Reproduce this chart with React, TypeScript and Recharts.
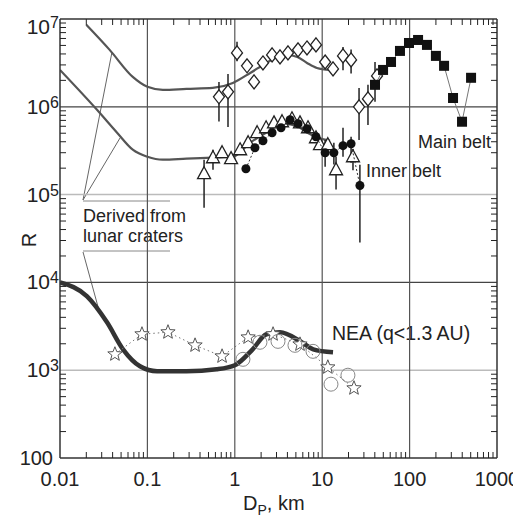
import { ComposedChart, Line, Scatter, XAxis, YAxis, ReferenceLine, ErrorBar } from 'recharts'

const FONT = '"Liberation Sans", Arial, Helvetica, sans-serif'
const INK = '#222'

const CHART_W = 513
const CHART_H = 516
const MARGIN = { top: 11, right: 24, left: 0, bottom: 0 }
const Y_AXIS_W = 52
const X_AXIS_H = 66
const PLOT_W = CHART_W - MARGIN.left - MARGIN.right - Y_AXIS_W
const PLOT_H = CHART_H - MARGIN.top - MARGIN.bottom - X_AXIS_H
const MINOR_LEN = 6

// axes
const xDomain: [number, number] = [0.01, 1000]
const yDomain: [number, number] = [100, 1e7]
const xTicks = [0.01, 0.1, 1, 10, 100, 1000]
const xTickLabels = ['0.01', '0.1', '1', '10', '100', '1000']
const yTicks = [100, 1e3, 1e4, 1e5, 1e6, 1e7]
const yTickBases = ['100', '10', '10', '10', '10', '10']
const yTickExps = ['', '3', '4', '5', '6', '7']
const minorSteps = [2, 3, 4, 5, 6, 7, 8, 9]

const darkGridX = [0.1, 1, 10, 100]
const darkGridY = [1e6, 1e4]
const lightGridY = [1e5, 1e3]

// model curves (D km, R)
const upperLunar: [number, number][] = [
  [0.02, 8.6e6], [0.037, 4.45e6], [0.068, 2.19e6], [0.1, 1.69e6], [0.15, 1.56e6],
  [0.28, 1.6e6], [0.56, 1.64e6], [0.95, 1.87e6], [1.5, 2.43e6], [2.3, 3.16e6],
  [3.6, 3.95e6], [5.2, 3.7e6], [6.7, 3.16e6], [8.7, 2.77e6], [12.3, 2.63e6],
]
const lowerLunar: [number, number][] = [
  [0.01, 2.63e6], [0.0265, 9.25e5], [0.045, 5.07e5], [0.068, 3.25e5], [0.1, 2.7e5],
  [0.15, 2.5e5], [0.28, 2.57e5], [0.56, 2.64e5], [0.95, 2.7e5], [1.5, 3.9e5],
  [2.3, 5.1e5], [3.6, 6.4e5], [5.2, 6.0e5], [6.7, 5.1e5], [8.7, 4.5e5], [12.3, 4.1e5],
]
const neaCurve: [number, number][] = [
  [0.01, 1e4], [0.0204, 6930], [0.0345, 3510], [0.0526, 1730], [0.0823, 1110],
  [0.129, 975], [0.28, 975], [0.62, 1026], [1.0, 1140], [1.6, 1730], [2.3, 2570],
  [3.3, 2700], [5.6, 2135], [7.9, 1730], [13.3, 1600],
]

// observations: [D, R, errLow, errHigh]
type Pt = [number, number, number?, number?]
const neaStars: Pt[] = [
  [0.0425, 1520], [0.0867, 2570], [0.172, 2710], [0.351, 1920], [0.715, 1440],
  [1.42, 2370], [2.74, 2570], [5.57, 1970], [11.6, 1080], [23.1, 624],
]
const neaCircles: Pt[] = [
  [1.24, 1330], [1.94, 2080], [3.12, 2130], [4.88, 1920], [7.85, 1640], [12.6, 693], [19.7, 877],
]
const beltDiamonds: Pt[] = [
  [0.659, 1.3e6, 6.8e5, 1.92e6], [0.836, 1.48e6, 5.9e5, 2.37e6], [1.06, 4.11e6, 3.3e6, 5.5e6],
  [1.38, 2.93e6], [1.66, 1.92e6], [2.1, 3.16e6], [2.67, 3.9e6], [3.29, 3.7e6], [4.06, 4.11e6],
  [5.29, 4.45e6], [6.7, 4.68e6], [8.49, 5.07e6], [10.8, 3.24e6], [13.3, 2.7e6],
  [17.3, 3.8e6, 2.6e6, 4.8e6], [21.4, 3.42e6, 2.4e6, 4.5e6], [26.4, 1.0e6, 4.2e5, 1.64e6],
  [33.4, 1.23e6, 6.2e5, 1.78e6], [42.4, 2.25e6],
]
const mainBelt: Pt[] = [
  [40.2, 1.78e6, 1.14e6, 3.24e6], [49.7, 2.63e6], [61.3, 3.24e6], [77.6, 4.33e6], [98.4, 5.33e6],
  [125, 5.77e6], [158, 5.07e6], [200, 3.8e6], [248, 2.93e6], [314, 1.26e6], [398, 6.76e5], [505, 2.14e6],
]
const innerTriangles: Pt[] = [
  [0.445, 1.73e5, 7.1e4, 2.5e5], [0.563, 2.63e5, 1.92e5, 3.24e5], [0.715, 3.0e5], [0.906, 2.57e5],
  [1.15, 3.24e5], [1.42, 3.9e5], [1.8, 5.07e5], [2.28, 5.77e5], [2.81, 6.57e5], [3.47, 6.76e5],
  [4.51, 7.31e5], [5.57, 6.57e5], [6.88, 5.77e5], [8.49, 4.44e5], [9.44, 3.7e5], [11.6, 3.7e5],
  [14.4, 1.92e5, 1.14e5, 2.7e5], [22.5, 2.7e5, 1.9e5, 3.3e5],
]
const innerDots: Pt[] = [
  [1.34, 1.97e5], [1.7, 3.42e5], [2.1, 4.11e5], [2.67, 5.07e5], [3.38, 5.77e5], [4.29, 7.11e5],
  [5.29, 6.41e5], [6.7, 5.62e5], [8.49, 4.56e5], [10.8, 3.0e5, 2.08e5, 4.2e5],
  [13.6, 3.0e5, 2.2e5, 3.9e5], [17.3, 3.61e5, 2.7e5, 5.77e5], [21.4, 3.8e5, 2.31e5, 4.56e5],
  [27.0, 1.27e5, 2.85e4, 2.19e5],
]

const toRows = (pts: Pt[]) =>
  pts.map(([d, r, lo, hi]) => ({ d, r, err: lo != null && hi != null ? [r - lo, hi - r] : [0, 0] }))
const curveRows = (pts: [number, number][]) => pts.map(([d, r]) => ({ d, r }))

const findMajor = (list: number[], v: number) => list.findIndex((t) => Math.abs(t - v) / t < 1e-6)

// pixels per decade, so each major tick can place the minor ticks of its decade
const X_DECADE = PLOT_W / Math.log10(xDomain[1] / xDomain[0])
const Y_DECADE = PLOT_H / Math.log10(yDomain[1] / yDomain[0])

const StarShape = ({ cx, cy }: any) => {
  const pts: string[] = []
  for (let i = 0; i < 10; i++) {
    const rad = i % 2 === 0 ? 7.5 : 3.2
    const a = -Math.PI / 2 + (i * Math.PI) / 5
    pts.push(`${cx + rad * Math.cos(a)},${cy + rad * Math.sin(a)}`)
  }
  return <polygon points={pts.join(' ')} fill="#fff" stroke="#555" strokeWidth={1} />
}
const CircleShape = ({ cx, cy }: any) => <circle cx={cx} cy={cy} r={7} fill="none" stroke="#888" strokeWidth={1} />
const DiamondShape = ({ cx, cy }: any) => (
  <path d={`M${cx},${cy - 7}L${cx + 5.5},${cy}L${cx},${cy + 7}L${cx - 5.5},${cy}Z`} fill="#fff" stroke="#222" strokeWidth={1.3} />
)
const SquareShape = ({ cx, cy }: any) => <rect x={cx - 5} y={cy - 5} width={10} height={10} fill="#111" />
const TriangleShape = ({ cx, cy }: any) => (
  <path d={`M${cx},${cy - 7}L${cx + 6.5},${cy + 5}L${cx - 6.5},${cy + 5}Z`} fill="#fff" stroke="#222" strokeWidth={1.3} />
)
const DotShape = ({ cx, cy }: any) => <circle cx={cx} cy={cy} r={4.5} fill="#111" />

function XTick({ x, y, payload }: any) {
  const i = findMajor(xTicks, payload.value)
  if (i < 0) return null
  const top = y - PLOT_H
  const hasMinors = i < xTicks.length - 1
  return (
    <g>
      {hasMinors &&
        minorSteps.map((k) => {
          const mx = x + Math.log10(k) * X_DECADE
          return (
            <g key={k} stroke="#222" strokeWidth={1}>
              <line x1={mx} x2={mx} y1={y} y2={y - MINOR_LEN} />
              <line x1={mx} x2={mx} y1={top} y2={top + MINOR_LEN} />
            </g>
          )
        })}
      <text x={x} y={y} dy={28} textAnchor="middle" fontSize={20} fill={INK} fontFamily={FONT} stroke="none">
        {xTickLabels[i]}
      </text>
    </g>
  )
}

function YTick({ x, y, payload }: any) {
  const i = findMajor(yTicks, payload.value)
  if (i < 0) return null
  const right = x + PLOT_W
  const hasMinors = i < yTicks.length - 1
  const minorMarks = hasMinors
    ? minorSteps.map((k) => {
        const my = y - Math.log10(k) * Y_DECADE
        return (
          <g key={k} stroke="#222" strokeWidth={1}>
            <line x1={x} x2={x + MINOR_LEN} y1={my} y2={my} />
            <line x1={right} x2={right - MINOR_LEN} y1={my} y2={my} />
          </g>
        )
      })
    : null
  if (!yTickExps[i]) {
    return (
      <g>
        {minorMarks}
        <text x={x - 7} y={y} dy={7} textAnchor="end" fontSize={20} fill={INK} fontFamily={FONT} stroke="none">
          {yTickBases[i]}
        </text>
      </g>
    )
  }
  // the top label sits a little lower so it stays on the page
  const shift = i === yTicks.length - 1 ? 8 : 0
  return (
    <g>
      {minorMarks}
      <g fontFamily={FONT} fill={INK} stroke="none">
        <text x={x - 10} y={y + shift} dy={7} textAnchor="end" fontSize={21}>{yTickBases[i]}</text>
        <text x={x - 10} y={y + shift} dy={1} textAnchor="start" fontSize={16}>{yTickExps[i]}</text>
      </g>
    </g>
  )
}

export default function App() {
  return (
    <ComposedChart width={CHART_W} height={CHART_H} margin={MARGIN}>
      <XAxis
        dataKey="d"
        type="number"
        scale="log"
        domain={xDomain}
        allowDataOverflow
        ticks={xTicks}
        interval={0}
        tickLine={false}
        tickSize={0}
        tickMargin={0}
        height={X_AXIS_H}
        axisLine={{ stroke: '#333', strokeWidth: 1.5 }}
        tick={<XTick />}
      />
      <YAxis
        dataKey="r"
        type="number"
        scale="log"
        domain={yDomain}
        allowDataOverflow
        ticks={yTicks}
        interval={0}
        tickLine={false}
        tickSize={0}
        tickMargin={0}
        width={Y_AXIS_W}
        axisLine={{ stroke: '#333', strokeWidth: 1.5 }}
        tick={<YTick />}
      />

      {lightGridY.map((v) => (
        <ReferenceLine key={`ly${v}`} y={v} stroke="#bbb" strokeWidth={1.5} />
      ))}
      {darkGridY.map((v) => (
        <ReferenceLine key={`dy${v}`} y={v} stroke="#444" strokeWidth={1.2} />
      ))}
      {darkGridX.map((v) => (
        <ReferenceLine key={`dx${v}`} x={v} stroke="#555" strokeWidth={1.2} />
      ))}
      <ReferenceLine y={1e7} stroke="#333" strokeWidth={1.5} />
      <ReferenceLine x={1000} stroke="#333" strokeWidth={1.5} />

      <Line data={curveRows(upperLunar)} dataKey="r" type="monotone" stroke="#555" strokeWidth={2.2} dot={false} isAnimationActive={false} />
      <Line data={curveRows(lowerLunar)} dataKey="r" type="monotone" stroke="#555" strokeWidth={2.2} dot={false} isAnimationActive={false} />

      <Scatter data={toRows(neaStars)} shape={<StarShape />} line={{ stroke: '#777', strokeWidth: 1, strokeDasharray: '1.5 3' }} isAnimationActive={false} />
      <Scatter data={toRows(neaCircles)} shape={<CircleShape />} isAnimationActive={false} />
      <Line data={curveRows(neaCurve)} dataKey="r" type="monotone" stroke="#333" strokeWidth={4.5} dot={false} isAnimationActive={false} />

      <Scatter data={toRows(beltDiamonds)} shape={<DiamondShape />} isAnimationActive={false}>
        <ErrorBar dataKey="err" direction="y" width={0} stroke="#222" strokeWidth={1.5} />
      </Scatter>
      <Scatter data={toRows(innerTriangles)} shape={<TriangleShape />} isAnimationActive={false}>
        <ErrorBar dataKey="err" direction="y" width={0} stroke="#222" strokeWidth={1.5} />
      </Scatter>
      <Scatter data={toRows(innerDots)} shape={<DotShape />} line={{ stroke: '#333', strokeWidth: 1, strokeDasharray: '2 2' }} isAnimationActive={false}>
        <ErrorBar dataKey="err" direction="y" width={0} stroke="#222" strokeWidth={1.5} />
      </Scatter>
      <Scatter data={toRows(mainBelt)} shape={<SquareShape />} line={{ stroke: '#777', strokeWidth: 1 }} isAnimationActive={false}>
        <ErrorBar dataKey="err" direction="y" width={0} stroke="#222" strokeWidth={1.5} />
      </Scatter>

      <g fontFamily={FONT} fill={INK} stroke="none">
        <line x1={75} y1={193} x2={162} y2={193} stroke="#888" strokeWidth={1} />
        <line x1={75} y1={243} x2={162} y2={243} stroke="#888" strokeWidth={1} />
        <line x1={75} y1={192} x2={104} y2={44} stroke="#666" strokeWidth={1} />
        <line x1={75} y1={192} x2={112} y2={130} stroke="#666" strokeWidth={1} />
        <line x1={75} y1={244} x2={92} y2={306} stroke="#666" strokeWidth={1} />
        <text x={75} y={214} fontSize={18}>Derived from</text>
        <text x={75} y={234} fontSize={18}>lunar craters</text>
        <text x={410} y={140} fontSize={18}>Main belt</text>
        <text x={358} y={169} fontSize={18}>Inner belt</text>
        <text x={324} y={332} fontSize={19.5}>NEA (q&lt;1.3 AU)</text>
        <text x={0} y={0} fontSize={20} textAnchor="middle" transform="translate(28,232) rotate(-90)">R</text>
        <text x={235} y={502} fontSize={20}>
          D<tspan fontSize={14} dy={5}>P</tspan>
          <tspan dy={-5}>, km</tspan>
        </text>
      </g>
    </ComposedChart>
  )
}
